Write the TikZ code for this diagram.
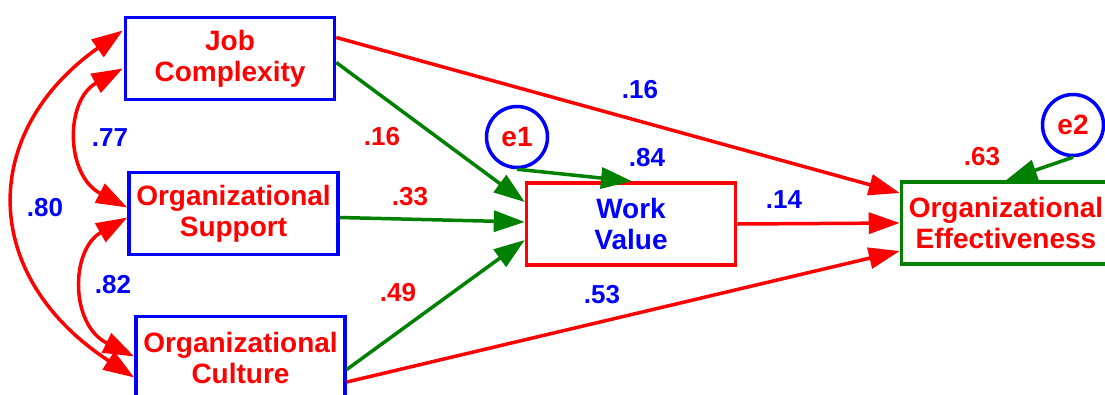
\documentclass[tikz,border=0pt]{standalone}
\usepackage{fontspec}
\setmainfont{Liberation Sans}
\usetikzlibrary{arrows.meta,calc}
\definecolor{cred}{RGB}{255,0,0}
\definecolor{cblue}{RGB}{0,0,255}
\definecolor{cgreen}{RGB}{0,128,0}
\newcommand\bxfont{\bfseries\fontsize{28}{31}\selectfont}
\newcommand\lbfont{\bfseries\fontsize{26}{28}\selectfont}
\tikzset{
  box/.style={draw, line width=3.5pt, minimum width=209pt, minimum height=82pt,
    align=center, inner sep=0pt, font=\bxfont},
  err/.style={draw=cblue, line width=3.5pt, circle, minimum size=61pt, inner sep=0pt,
    font=\bxfont, text=cred},
  lbl/.style={font=\lbfont, inner sep=0pt},
  arr/.style={line width=3.5pt, -{Triangle[length=31pt,width=21pt]}},
  dbl/.style={line width=3.5pt, draw=cred, {Triangle[length=31pt,width=21pt]}-{Triangle[length=31pt,width=21pt]}},
}
\begin{document}
\begin{tikzpicture}[x=1pt,y=-1pt]
\useasboundingbox (0,0) rectangle (1105,394);
\clip (0,0) rectangle (1105,394);
\fill[white] (0,0) rectangle (1105,394);

\node[box, draw=cblue, text=cred] (jc) at (230,58.5) {Job\\Complexity};
\node[box, draw=cblue, text=cred] (os) at (233.5,213.5) {Organizational\\Support};
\node[box, draw=cblue, text=cred] (oc) at (240.5,357.5) {Organizational\\Culture};
\node[box, draw=cred, text=cblue] (wv) at (631,224) {Work\\Value};
\node[box, draw=cgreen, text=cred] (oe) at (1006,223) {Organizational\\Effectiveness};
\node[err] (e1) at (517,137) {e1};
\node[err] (e2) at (1073,125) {e2};

% covariances
\draw[dbl] ($(jc.west)+(-1,10)$) .. controls (65,100) and (65,175) .. ($(os.west)+(0,-6)$);
\draw[dbl] ($(os.west)+(0,4)$) .. controls (70,250) and (70,325) .. ($(oc.west)+(0,-1)$);
\draw[dbl] ($(jc.west)+(-1,-28)$) .. controls (-21,132) and (-21,276) .. ($(oc.west)+(0,20)$);

% paths to work value
\draw[arr, cgreen] ($(jc.east)+(0,4)$) -- ($(wv.west)+(0,-22)$);
\draw[arr, cgreen] ($(os.east)+(0,4)$) -- ($(wv.west)+(0,-2)$);
\draw[arr, cgreen] ($(oc.east)+(0,12)$) -- ($(wv.west)+(0,16)$);
\draw[arr, cgreen] (e1.south) -- ($(wv.north)+(1,0)$);

% paths to effectiveness
\draw[arr, cred] (wv.east) -- (oe.west);
\draw[arr, cred] ($(jc.east)+(0,-21)$) -- ($(oe.west)+(0,-30)$);
\draw[arr, cred] ($(oc.east)+(0,24.5)$) -- ($(oe.west)+(0,28)$);
\draw[arr, cgreen] (e2.south) -- (oe.north);

% labels
\node[lbl, text=cblue] (l77) at (110,138) {.77};
\node[lbl, text=cblue] (l82) at (113,285) {.82};
\node[lbl, text=cblue] (l80) at (45,208) {.80};
\node[lbl, text=cred] (l16a) at (382,137) {.16};
\node[lbl, text=cred] (l33) at (410,197) {.33};
\node[lbl, text=cred] (l49) at (398,293) {.49};
\node[lbl, text=cblue] (l53) at (602,295) {.53};
\node[lbl, text=cblue] (l16b) at (640,90) {.16};
\node[lbl, text=cblue] (l84) at (647,158) {.84};
\node[lbl, text=cblue] (l14) at (784,200) {.14};
\node[lbl, text=cred] (l63) at (982,157) {.63};
\end{tikzpicture}
\end{document}
